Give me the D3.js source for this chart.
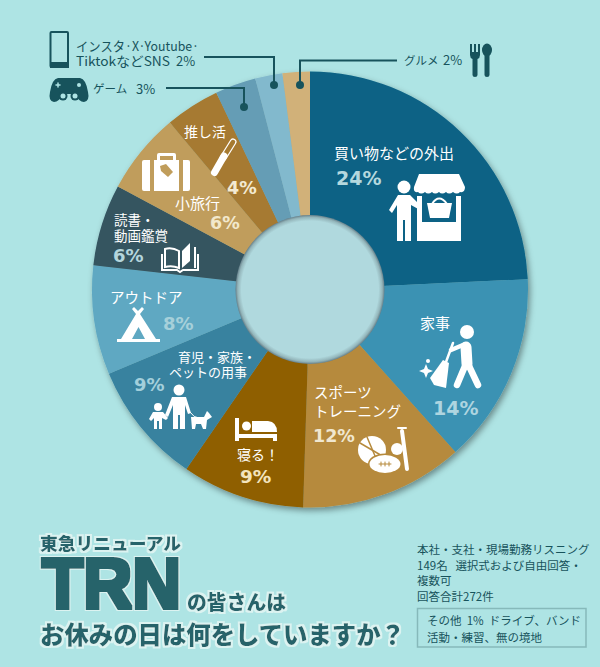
<!DOCTYPE html>
<html>
<head>
<meta charset="utf-8">
<script src="https://cdn.jsdelivr.net/npm/d3@7"></script>
<style>
	html, body { margin: 0; padding: 0; background: #aee4e4; overflow: hidden; }
	svg { display: block; }
	text { font-family: "Noto Sans CJK JP", "Noto Sans", sans-serif; white-space: pre; }
</style>
</head>
<body>
<script>
// chart values, clockwise from twelve o'clock
var categories = ["買い物などの外出", "家事", "スポーツ\nトレーニング", "寝る！", "育児・家族・\nペットの用事",
	"アウトドア", "読書・\n動画鑑賞", "小旅行", "推し活", "ゲーム", "インスタ·X·Youtube·\nTiktokなどSNS", "グルメ"];
var values = [24, 14, 12, 9, 9, 8, 6, 6, 4, 3, 2, 2];
var sliceColors = ["#0b6285", "#3a92b3", "#b68a3c", "#8f5f06", "#37829f", "#5ea8c2",
	"#345461", "#c09d5b", "#a67a30", "#659db5", "#82b9cd", "#d1b179"];
var percentColors = ["#b5d8de", "#aed5e0", "#f0e7d0", "#f3e4bd", "#a3cfdb", "#a6d0da",
	"#b4d5dc", "#f2e8cc", "#f3ead2"];

var noteLines = ["本社・支社・現場勤務リスニング", "149名   選択式および自由回答・", "複数可", "回答合計272件"];
var otherLines = ["その他  1%  ドライブ、バンド", "活動・練習、無の境地"];

// where each label sits: [name x, name y, name size, line gap, percent x, percent y, percent size]
var labelPlaces = [
	[334, 152, 15, 0, 336, 178, 19],
	[420, 322, 15, 0, 433, 408, 19],
	[314, 391, 14.5, 19, 313, 436, 17.5],
	[237, 454, 14, 0, 240, 476, 18.5],
	[178, 356, 13, 15, 134, 384, 18],
	[110, 296, 14.5, 0, 163, 323, 18],
	[114, 219, 13.5, 16, 113, 255, 18],
	[175, 202, 15, 0, 210, 223, 17.5],
	[184, 131, 14, 0, 227, 188, 17.5]
];

var width = 600, height = 667;
var cx = 310, cy = 289.5, outer = 218, inner = 74.5;
var ink = "#17535c", titleInk = "#25636a";

var svg = d3.select("body").append("svg").attr("width", width).attr("height", height);
var defs = svg.append("defs");

var shadow = defs.append("filter").attr("id", "pieShadow")
	.attr("x", "-10%").attr("y", "-10%").attr("width", "120%").attr("height", "120%");
shadow.append("feDropShadow").attr("dx", 2).attr("dy", 3).attr("stdDeviation", 3)
	.attr("flood-color", "#000").attr("flood-opacity", 0.4);

var holeFill = defs.append("radialGradient").attr("id", "holeFill");
holeFill.append("stop").attr("offset", "92%").attr("stop-color", "#b0d9de");
holeFill.append("stop").attr("offset", "97%").attr("stop-color", "#93b5ba");
holeFill.append("stop").attr("offset", "100%").attr("stop-color", "#66808a");

// fattens the title lettering and puts a pale halo behind it
function haloFilter(id, fat, halo) {
	var f = defs.append("filter").attr("id", id).attr("filterUnits", "userSpaceOnUse")
		.attr("x", 0).attr("y", 500).attr("width", width).attr("height", 167);
	f.append("feMorphology").attr("in", "SourceGraphic").attr("operator", "dilate").attr("radius", fat).attr("result", "fat");
	f.append("feMorphology").attr("in", "SourceAlpha").attr("operator", "dilate").attr("radius", halo).attr("result", "wide");
	f.append("feFlood").attr("flood-color", "#dcf3f1").attr("result", "pale");
	f.append("feComposite").attr("in", "pale").attr("in2", "wide").attr("operator", "in").attr("result", "halo");
	var m = f.append("feMerge");
	m.append("feMergeNode").attr("in", "halo");
	m.append("feMergeNode").attr("in", "fat");
}
haloFilter("titleHalo", 0.4, 1.8);
haloFilter("bigHalo", 1.8, 3.2);

svg.append("rect").attr("width", width).attr("height", height).attr("fill", "#aee4e4");

// donut
var pie = d3.pie().sort(null).value(function(d) { return d; });
var arc = d3.arc().innerRadius(inner - 2).outerRadius(outer);
var chart = svg.append("g").attr("transform", "translate(" + cx + "," + cy + ")");
chart.append("g").attr("filter", "url(#pieShadow)")
	.selectAll("path").data(pie(values)).join("path")
	.attr("d", arc)
	.attr("fill", function(d, i) { return sliceColors[i]; });
chart.append("circle").attr("r", inner).attr("fill", "url(#holeFill)");

// slice labels
labelPlaces.forEach(function(p, i) {
	categories[i].split("\n").forEach(function(line, k) {
		// second line of the family label starts further left
		var x = (i === 4 && k === 1) ? 169 : p[0];
		svg.append("text").attr("x", x).attr("y", p[1] + k * p[3])
			.attr("dominant-baseline", "central")
			.attr("font-size", p[2]).attr("fill", "#fff").text(line);
	});
	svg.append("text").attr("x", p[4]).attr("y", p[5])
		.attr("dominant-baseline", "central")
		.style("font-family", "'DejaVu Sans'").style("font-weight", "bold")
		.attr("font-size", p[6]).attr("fill", percentColors[i]).text(values[i] + "%");
});

// small slices get outside labels with leader lines
function outsideText(x, y, size, str, span) {
	var t = svg.append("text").attr("x", x).attr("y", y).attr("dominant-baseline", "central")
		.attr("font-size", size).attr("fill", ink).text(str);
	if (span) t.attr("textLength", span).attr("lengthAdjust", "spacingAndGlyphs");
}
var snsLines = categories[10].split("\n");
outsideText(76, 45, 13, snsLines[0], 123);
outsideText(76, 60.5, 13, snsLines[1], 94);
outsideText(176, 60.5, 13, values[10] + "%");
outsideText(93, 88, 11.5, categories[9]);
outsideText(136, 88, 13, values[9] + "%");
outsideText(404, 59.5, 11.5, categories[11]);
outsideText(443, 59.5, 13, values[11] + "%");

function leader(pathStr, dotX, dotY) {
	svg.append("path").attr("d", pathStr).attr("fill", "none").attr("stroke", ink).attr("stroke-width", 2);
	svg.append("circle").attr("cx", dotX).attr("cy", dotY).attr("r", 4).attr("fill", ink);
}
leader("M204 57H274V85", 274, 85);
leader("M166 88H244V107", 244, 107);
leader("M397 60.5H300V85", 300, 85);

// icons
function line(g, x1, y1, x2, y2, w, color) {
	g.append("line").attr("x1", x1).attr("y1", y1).attr("x2", x2).attr("y2", y2)
		.attr("stroke", color || "#fff").attr("stroke-width", w).attr("stroke-linecap", "round");
}
function dot(g, x, y, r, color) {
	g.append("circle").attr("cx", x).attr("cy", y).attr("r", r).attr("fill", color || "#fff");
}
function shape(g, d, color) {
	return g.append("path").attr("d", d).attr("fill", color || "#fff");
}
var icons = svg.append("g");

// shop
var shop = icons.append("g");
shape(shop, "M419 174H459L465 187Q465 193 460 192Q457 195 453 192Q449 195 446 192Q442 195 439 192Q435 195 432 192Q428 195 425 192Q421 195 418 192Q413 193 414 187Z");
shape(shop, "M417 196H422V240H417ZM456 196H461V241H417V222H456Z");
shape(shop, "M427 203H452L449 218H430Z");
shop.append("path").attr("d", "M432 204Q439 193 447 204").attr("fill", "none").attr("stroke", "#fff").attr("stroke-width", 2);
dot(shop, 404, 187, 6.5);
shape(shop, "M398 195H410L422 207L420 210L411 205V241H405V220H403V241H397V205L392 213L389 210Z");

// sweeper
var sweep = icons.append("g");
dot(sweep, 467, 332, 7);
line(sweep, 466, 347, 467, 364, 11);
line(sweep, 465, 366, 457, 385, 6.5);
line(sweep, 469, 366, 478, 385, 6.5);
line(sweep, 463, 345, 451, 350, 4.5);
line(sweep, 453, 343, 446, 362, 2.5);
shape(sweep, "M443 360L449 363L446 388L434 385L430 378Z");
shape(sweep, "M426 364L428 369L433 371L428 373L426 378L424 373L419 371L424 369Z");
dot(sweep, 428, 361, 2);

// sports
var balls = icons.append("g");
dot(balls, 372, 450, 14);
line(balls, 360, 443, 384, 457, 1.5, "#b68a3c");
line(balls, 367, 437, 378, 463, 1.5, "#b68a3c");
balls.append("ellipse").attr("cx", 385).attr("cy", 464).attr("rx", 17).attr("ry", 10.5)
	.attr("fill", "#b68a3c");
balls.append("ellipse").attr("cx", 385).attr("cy", 464).attr("rx", 15.5).attr("ry", 9).attr("fill", "#fff");
line(balls, 379, 464, 391, 464, 1, "#b68a3c");
[381, 385, 389].forEach(function(x) { line(balls, x, 462, x, 466, 1, "#b68a3c"); });
dot(balls, 397, 449, 7.5, "#b68a3c");
dot(balls, 397, 449, 6);
line(balls, 402, 431, 407, 469, 4);
line(balls, 398, 428, 406, 428, 2);

// bed
var bed = icons.append("g");
shape(bed, "M235 418H239V434H277V441H273V438H239V441H235Z");
dot(bed, 246.5, 426, 4.5);
shape(bed, "M252 421H268Q277 422 277 432H252Z");

// family
var family = icons.append("g");
dot(family, 179, 390, 5.5);
shape(family, "M172 397H186L191 413L188 414L185 405V429H180V415H178V429H173V405L168 417L165 415Z");
dot(family, 158, 407, 4);
shape(family, "M153 412H163L168 418L166 420L162 418V429H159V421H157V429H154V418L151 421L149 419Z");
family.append("path").attr("d", "M190 412Q194 418 199 418").attr("fill", "none").attr("stroke", "#fff").attr("stroke-width", 1);
shape(family, "M191 417H204L207 411L209 413L212 417L207 420L206 429H203L201 424H196L195 429H192Z");

// tent
var tent = icons.append("g");
shape(tent, "M134 307L138 311L142 307L144 309L140 314L156 339H160V342H117V339H121L136 314L132 309ZM132 339H145L138.500 327Z");

// book
var book = icons.append("g");
book.append("path").attr("d", "M165 249Q172 247 179 251V268Q172 265 165 267ZM162 254V270H177L180 272L183 270H198V254")
	.attr("fill", "none").attr("stroke", "#fff").attr("stroke-width", 2);
shape(book, "M182 251L190 243V261L182 268Z");
book.append("line").attr("x1", 195).attr("y1", 247).attr("x2", 195).attr("y2", 268).attr("stroke", "#fff").attr("stroke-width", 2);

// suitcase
var bag = icons.append("g");
shape(bag, "M144 160H150V191H144Q142 191 142 189V162Q142 160 144 160Z");
shape(bag, "M183 160H188Q190 160 190 162V189Q190 191 188 191H183Z");
shape(bag, "M154 160H157V155Q157 153 159 153H174Q176 153 176 155V160H179V191H154ZM160 156V160H173V156Z");
shape(bag, "M160 166L166 164L173 172L168 177L161 171Z", "#c09d5b");

// penlight
var pen = icons.append("g");
pen.append("line").attr("x1", 233).attr("y1", 142).attr("x2", 223).attr("y2", 158)
	.attr("stroke", "#fff").attr("stroke-width", 7).attr("stroke-linecap", "round");
pen.append("line").attr("x1", 233).attr("y1", 142).attr("x2", 223).attr("y2", 158)
	.attr("stroke", "#a67a30").attr("stroke-width", 4.500).attr("stroke-linecap", "round");
line(pen, 224, 156, 214.500, 172.500, 7);

// phone
var phone = icons.append("g");
phone.append("rect").attr("x", 50.500).attr("y", 32).attr("width", 17.500).attr("height", 35)
	.attr("rx", 1).attr("fill", "none").attr("stroke", ink).attr("stroke-width", 2);
phone.append("rect").attr("x", 50).attr("y", 62).attr("width", 19).attr("height", 6).attr("fill", ink);

// controller
var pad = icons.append("g");
shape(pad, "M58 78H80Q86 79 88 92Q90 101 84 102Q79 102 75 94H63Q59 102 54 102Q48 101 50 92Q52 79 58 78Z", ink);
dot(pad, 63, 96, 4.500, ink);
dot(pad, 75, 96, 4.500, ink);
dot(pad, 63, 96, 2.500, "#aee4e4");
dot(pad, 75, 96, 2.500, "#aee4e4");
line(pad, 56, 85, 60, 85, 1.500, "#aee4e4");
line(pad, 58, 83, 58, 87, 1.500, "#aee4e4");
dot(pad, 79, 85, 2, "#aee4e4");

// cutlery
var cutlery = icons.append("g");
shape(cutlery, "M470 44H472V52H474V44H476V52H478V44H480V55Q480 58 477.500 59V75Q477.500 77 475 77Q472.500 77 472.500 75V59Q470 58 470 55Z", ink);
cutlery.append("ellipse").attr("cx", 487).attr("cy", 50).attr("rx", 5).attr("ry", 6.500).attr("fill", ink);
shape(cutlery, "M484.500 55H489.500V75Q489.500 77 487 77Q484.500 77 484.500 75Z", ink);

// title block
function titleText(x, y, size, str, span) {
	svg.append("text").attr("x", x).attr("y", y).attr("dominant-baseline", "central")
		.attr("font-size", size).attr("font-weight", 900).attr("fill", titleInk)
		.attr("filter", "url(#titleHalo)")
		.attr("textLength", span).attr("lengthAdjust", "spacingAndGlyphs").text(str);
}
titleText(40, 542, 17.500, "東急リニューアル", 141);
titleText(187, 601, 20, "の皆さんは", 99);
titleText(40, 633, 24.500, "お休みの日は何をしていますか？", 365);

svg.append("text").attr("x", 42).attr("y", 607.500)
	.style("font-family", "'Liberation Sans'").style("font-weight", "bold")
	.attr("font-size", 70).attr("fill", titleInk)
	.attr("filter", "url(#bigHalo)")
	.attr("textLength", 139).attr("lengthAdjust", "spacingAndGlyphs").text("TRN");

// survey note
noteLines.forEach(function(str, i) {
	svg.append("text").attr("x", 417).attr("y", 549 + i * 15.700).attr("dominant-baseline", "central")
		.attr("font-size", 11.500).attr("fill", ink).text(str);
});
svg.append("rect").attr("x", 417.500).attr("y", 608.500).attr("width", 168.500).attr("height", 38.500)
	.attr("fill", "none").attr("stroke", "#86b9ba").attr("stroke-width", 1.500);
otherLines.forEach(function(str, i) {
	svg.append("text").attr("x", 427).attr("y", 620 + i * 16.500).attr("dominant-baseline", "central")
		.attr("font-size", 11.500).attr("fill", ink).text(str);
});
</script>
</body>
</html>
